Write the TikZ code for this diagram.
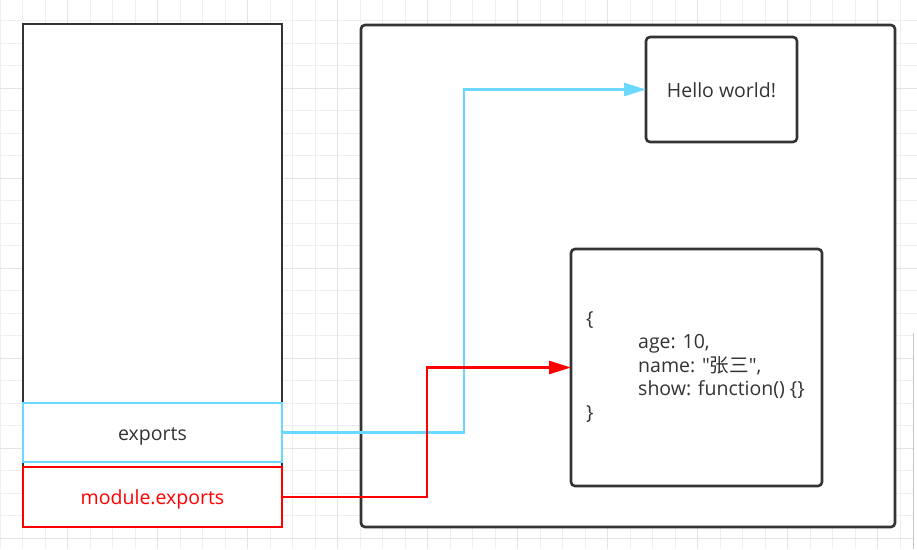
\documentclass[tikz,border=0pt]{standalone}
\usepackage{fontspec}
\setmainfont{Open Sans}[Ligatures=TeXOff]
\newfontfamily\cjk{Noto Sans CJK SC}[Ligatures=TeXOff]
\usetikzlibrary{arrows.meta}
\definecolor{inkgray}{HTML}{333333}
\definecolor{linkblue}{HTML}{6AD8FF}
\definecolor{linkred}{HTML}{FF0000}
\definecolor{gridminor}{HTML}{EFEFEF}
\definecolor{gridmajor}{HTML}{E4E4E4}
\tikzset{
  box/.style={draw=inkgray, line width=2.6pt, fill=white, inner sep=0pt, outer sep=0pt,
    anchor=north west, text=inkgray, text height=19.5pt, text depth=4.5pt,
    font=\fontsize{19.5}{24}\selectfont},
  code/.style={inner sep=0pt, align=left, text=inkgray, font=\fontsize{19.5}{23.5}\selectfont},
  link/.style={line width=2.6pt, -{Triangle[length=22pt,width=13pt]}},
  gridline/.style={draw=gridminor, line width=1pt}
}
\begin{document}
\begin{tikzpicture}[x=1pt,y=-1pt]
\useasboundingbox (0,0) rectangle (917,549);
\fill[white] (0,0) rectangle (917,549);
% background grid
\foreach \gx in {0,...,40}
  \draw[gridline] ({0.2+22.5*\gx},0) -- ({0.2+22.5*\gx},549);
\foreach \gy in {0,...,25}
  \draw[gridline] (0,{-1.8+22.5*\gy}) -- (917,{-1.8+22.5*\gy});
\foreach \gx in {3,7,...,39}
  \draw[gridline, draw=gridmajor] ({0.2+22.5*\gx},0) -- ({0.2+22.5*\gx},549);
\foreach \gy in {4,8,...,24}
  \draw[gridline, draw=gridmajor] (0,{-1.8+22.5*\gy}) -- (917,{-1.8+22.5*\gy});
% side panel at the right edge
\fill[white] (913,333) rectangle (920,552);
\draw[gray!45, line width=1pt] (913.5,333) -- (913.5,549);
% stack
\node[box, minimum width=259pt, minimum height=503pt] (stack) at (23,24) {};
\node[box, draw=linkblue, minimum width=259pt, minimum height=59pt] (exports) at (23,403) {exports};
\node[box, draw=linkred, text=linkred, minimum width=259pt, minimum height=60pt] (modexp) at (23,467) {module.exports};
% heap
\node[box, rounded corners=4pt, minimum width=534pt, minimum height=502pt] (heap) at (361,25) {};
\node[box, rounded corners=4pt, minimum width=151pt, minimum height=105pt] (hello) at (646,37) {Hello world!};
\node[box, rounded corners=4pt, minimum width=251pt, minimum height=237pt] (obj) at (571,249) {};
\node[code, anchor=west] (objtext) at (586,367) {\{\\
\hspace*{52pt}age: 10,\\
\hspace*{52pt}name: "{\cjk 张三}",\\
\hspace*{52pt}show: function() \{\}\\
\}};
% references
\draw[link, linkblue] (exports.east) -- ++(182,0) |- (hello.west);
\draw[link, linkred] (modexp.east) -- ++(145,0) |- (obj.west);
\end{tikzpicture}
\end{document}
